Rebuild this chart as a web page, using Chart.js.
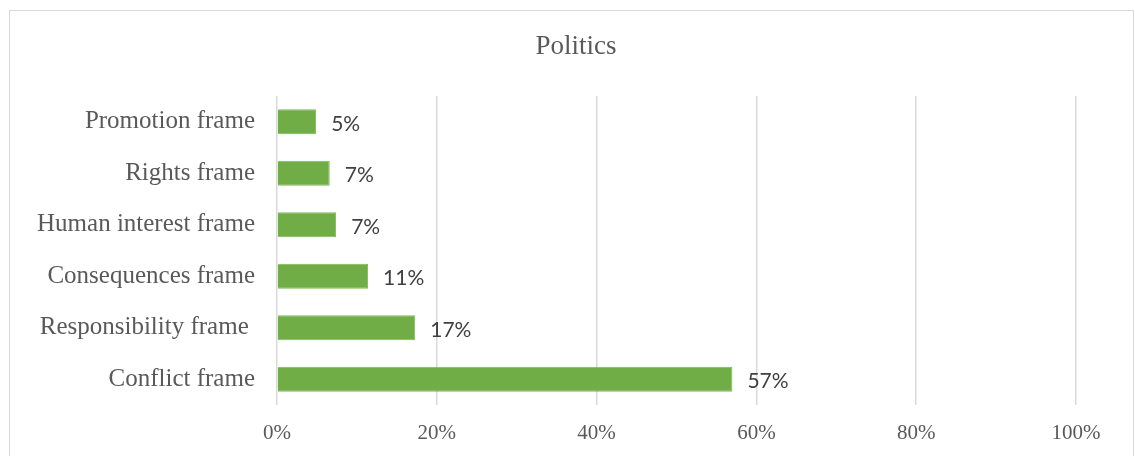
<!DOCTYPE html>
<html>
<head>
<meta charset="utf-8">
<script src="https://cdn.jsdelivr.net/npm/chart.js@4.4.0/dist/chart.umd.min.js"></script>
<style>
  body { margin:0; background:#fff; }
  #frame { position:absolute; left:9px; top:10px; width:1123px; height:460px; border:1px solid #d9d9d9; }
  #wrap { position:absolute; left:0; top:0; width:1135px; height:456px; }
</style>
</head>
<body>
<div id="frame"></div>
<div id="wrap"><canvas id="myChart"></canvas></div>
<script>
let title='Politics'
let labels=['Promotion frame','Rights frame','Human interest frame','Consequences frame','Responsibility frame ','Conflict frame']
let values=[4.9,6.6,7.4,11.4,17.3,57.0]
let xticks=[0,20,40,60,80,100]

// value labels to the right of each bar
const barLabels={
  id:'barLabels',
  afterDatasetsDraw(chart){
    const ctx=chart.ctx
    const meta=chart.getDatasetMeta(0)
    ctx.save()
    ctx.font='21px Lato'
    ctx.fillStyle='#404040'
    ctx.textAlign='left'
    ctx.textBaseline='middle'
    meta.data.forEach((bar,i)=>{
      ctx.fillText(Math.round(values[i])+'%',bar.x+15,bar.y+2)
    })
    ctx.restore()
  }
}

// title sits over the frame centre, not the canvas centre
const chartTitle={
  id:'chartTitle',
  afterDraw(chart){
    const ctx=chart.ctx
    ctx.save()
    ctx.font='27px "Liberation Serif"'
    ctx.fillStyle='#595959'
    ctx.textAlign='center'
    ctx.textBaseline='middle'
    ctx.fillText(title,576,47)
    ctx.restore()
  }
}

const ctx=document.getElementById('myChart')
new Chart(ctx,{
  type:'bar',
  data:{
    labels:labels,
    datasets:[{
      data:values,
      backgroundColor:'#70ad47',
      borderColor:'#7cb957',
      borderWidth:1,
      barPercentage:0.49,
      categoryPercentage:1
    }]
  },
  plugins:[barLabels,chartTitle],
  options:{
    indexAxis:'y',
    responsive:true,
    maintainAspectRatio:false,
    animation:false,
    layout:{padding:{left:0,right:59,top:96,bottom:0}},
    plugins:{
      legend:{display:false},
      tooltip:{enabled:false},
      title:{display:false}
    },
    scales:{
      x:{
        min:0,max:100,
        afterBuildTicks(scale){ scale.ticks=xticks.map(v=>({value:v})) },
        afterFit(scale){ scale.height=51 },
        grid:{color:'#d9d9d9',lineWidth:1.5,drawTicks:false},
        border:{display:false},
        ticks:{
          padding:16,
          color:'#595959',
          font:{family:'Liberation Serif',size:21},
          callback:(v)=>v+'%'
        }
      },
      y:{
        afterFit(scale){ scale.width=277 },
        grid:{display:false,drawTicks:false},
        border:{display:false},
        ticks:{
          padding:22,
          color:'#595959',
          font:{family:'Liberation Serif',size:25}
        }
      }
    }
  }
})
</script>
</body>
</html>
